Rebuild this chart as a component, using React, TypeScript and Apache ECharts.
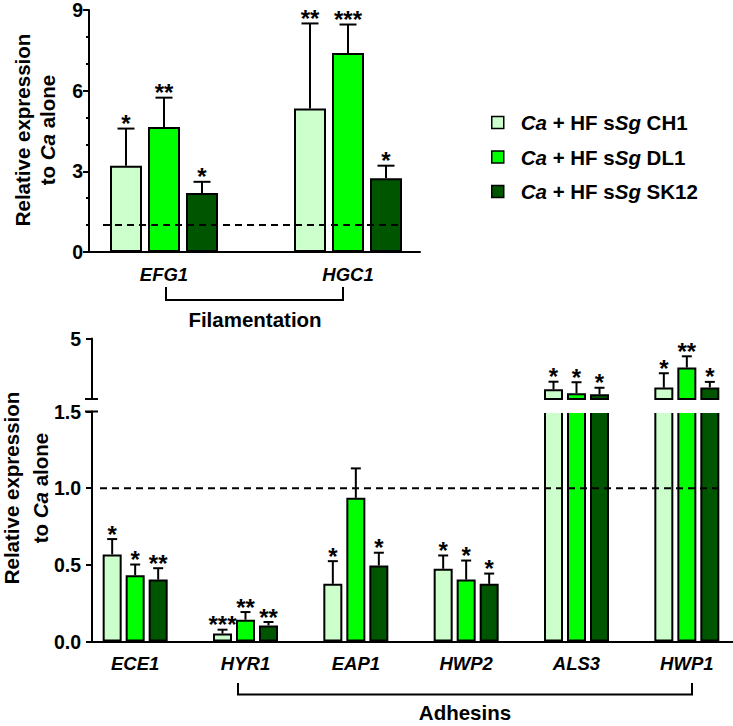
import React, { useEffect, useRef } from 'react';
import * as echarts from 'echarts';

const FONT = '"Liberation Sans", Arial, Helvetica, sans-serif';

// ---------- data ----------
const strains = ['CH1', 'DL1', 'SK12'];
const seriesNames = ['Ca + HF sSg CH1', 'Ca + HF sSg DL1', 'Ca + HF sSg SK12'];
const colors = ['#ccffcc', '#00ff00', '#005500'];

// Filamentation genes (top panel)
const filCategories = ['EFG1', 'HGC1'];
const filCH1 = [3.21, 5.34];
const filDL1 = [4.65, 7.4];
const filSK12 = [2.19, 2.74];
const filErrCH1 = [1.38, 3.16];
const filErrDL1 = [1.09, 1.06];
const filErrSK12 = [0.42, 0.47];
const filStarsCH1 = ['*', '**'];
const filStarsDL1 = ['**', '***'];
const filStarsSK12 = ['*', '*'];

// Adhesin genes (bottom panel)
const adhCategories = ['ECE1', 'HYR1', 'EAP1', 'HWP2', 'ALS3', 'HWP1'];
const adhCH1 = [0.568, 0.052, 0.376, 0.474, 2.06, 2.16];
const adhDL1 = [0.432, 0.142, 0.937, 0.404, 1.83, 3.32];
const adhSK12 = [0.404, 0.105, 0.496, 0.376, 1.77, 2.17];
const adhErrCH1 = [0.1, 0.025, 0.148, 0.087, 0.44, 0.83];
const adhErrDL1 = [0.07, 0.05, 0.192, 0.124, 0.64, 0.65];
const adhErrSK12 = [0.074, 0.022, 0.083, 0.067, 0.38, 0.32];
const adhStarsCH1 = ['*', '***', '*', '*', '*', '*'];
const adhStarsDL1 = ['*', '**', '', '*', '*', '**'];
const adhStarsSK12 = ['**', '**', '*', '*', '*', '*'];

// axis settings
const topMin = 0;
const topMax = 9;
const topInterval = 3;
const lowMin = 0;
const lowMax = 1.5;
const lowInterval = 0.5;
const upMin = 1.5;
const upMax = 5;
const upTicks = [5];
const refLevel = 1;

// ---------- layout / style constants ----------
const TOP_BAR_W = 32;
const TOP_GAP = 6;
const BOT_BAR_W = 19;
const BOT_GAP = 4;
const STAR_SIZE = 24;
const STAR_OFFSET = 5;

const black = '#000';

type Item = { cat: number; value: number; err: number; star: string; k: number };

function makeItems(vals: number[][], errs: number[][], stars: string[][]): Item[] {
  const out: Item[] = [];
  vals.forEach((arr, k) => {
    arr.forEach((v, i) => {
      out.push({ cat: i, value: v, err: errs[k][i], star: stars[k][i], k });
    });
  });
  return out;
}

function errorSeries(
  xAxisIndex: number,
  yAxisIndex: number,
  items: Item[],
  spacing: number,
  capHalf: number
) {
  return {
    type: 'custom',
    xAxisIndex,
    yAxisIndex,
    z: 5,
    silent: true,
    data: items.map((it) => [it.cat, it.value, it.err]),
    renderItem: (params: any, api: any) => {
      const it = items[params.dataIndex];
      const base = api.coord([it.cat, it.value]);
      const top = api.coord([it.cat, it.value + it.err]);
      const x = base[0] + (it.k - 1) * spacing;
      return {
        type: 'group',
        children: [
          {
            type: 'line',
            shape: { x1: x, y1: base[1], x2: x, y2: top[1] },
            style: { stroke: black, lineWidth: 2 },
          },
          {
            type: 'line',
            shape: { x1: x - capHalf, y1: top[1], x2: x + capHalf, y2: top[1] },
            style: { stroke: black, lineWidth: 2 },
          },
          {
            type: 'text',
            x,
            y: top[1] - STAR_OFFSET,
            style: {
              text: it.star,
              fontSize: STAR_SIZE,
              fontWeight: 'bold',
              fontFamily: FONT,
              fill: black,
              align: 'center',
              verticalAlign: 'middle',
            },
          },
        ],
      };
    },
  };
}

const tickLabelStyle = {
  fontSize: 19.5,
  fontWeight: 'bold',
  fontFamily: FONT,
  color: black,
};

const catLabelStyle = {
  fontSize: 18.5,
  fontWeight: 'bold',
  fontStyle: 'italic',
  fontFamily: FONT,
  color: black,
};

function buildOption() {
  const filVals = [filCH1, filDL1, filSK12];
  const filErrs = [filErrCH1, filErrDL1, filErrSK12];
  const filStars = [filStarsCH1, filStarsDL1, filStarsSK12];
  const adhVals = [adhCH1, adhDL1, adhSK12];
  const adhErrs = [adhErrCH1, adhErrDL1, adhErrSK12];
  const adhStars = [adhStarsCH1, adhStarsDL1, adhStarsSK12];

  const filItems = makeItems(filVals, filErrs, filStars);
  const adhItems = makeItems(adhVals, adhErrs, adhStars);
  const adhLowItems = adhItems.filter((it) => it.value <= lowMax);
  const adhUpItems = adhItems.filter((it) => it.value > upMin);

  const grid = [
    { left: 89, top: 10, width: 331, height: 242 }, // 0 top display
    { left: 72, top: 10, width: 368, height: 242 }, // 1 top data
    { left: 92, top: 411.5, width: 641, height: 230 }, // 2 lower display
    { left: 80, top: 411.5, width: 662, height: 230 }, // 3 lower data
    { left: 92, top: 338.5, width: 641, height: 60.5 }, // 4 upper display
    { left: 80, top: 338.5, width: 662, height: 60.5 }, // 5 upper data
  ].map((g) => ({ ...g, containLabel: false, outerBoundsMode: 'none' }));

  const axisLine = { show: true, onZero: false, lineStyle: { color: black, width: 2 } };

  const xAxis = [
    {
      gridIndex: 0, type: 'value', min: 0, max: 1,
      axisLine, axisTick: { show: false }, axisLabel: { show: false }, splitLine: { show: false },
    },
    {
      gridIndex: 1, type: 'category', data: filCategories,
      axisLine: { show: false }, axisTick: { show: false },
      axisLabel: { ...catLabelStyle, margin: 13 },
    },
    {
      gridIndex: 2, type: 'value', min: 0, max: 1,
      axisLine, axisTick: { show: false }, axisLabel: { show: false }, splitLine: { show: false },
    },
    {
      gridIndex: 3, type: 'category', data: adhCategories,
      axisLine: { show: false }, axisTick: { show: false },
      axisLabel: { ...catLabelStyle, margin: 12 },
    },
    { gridIndex: 4, type: 'value', min: 0, max: 1, show: false },
    { gridIndex: 5, type: 'category', data: adhCategories, show: false },
  ];

  const yAxis = [
    {
      gridIndex: 0, type: 'value', min: topMin, max: topMax, interval: topInterval,
      axisLine, axisTick: { show: true, length: 6, lineStyle: { color: black, width: 2 } },
      minorTick: { show: true, splitNumber: 3, length: 3, lineStyle: { color: black, width: 2 } },
      axisLabel: { ...tickLabelStyle, margin: 6 },
      splitLine: { show: false }, minorSplitLine: { show: false },
    },
    { gridIndex: 1, type: 'value', min: topMin, max: topMax, show: false, splitLine: { show: false } },
    {
      gridIndex: 2, type: 'value', min: lowMin, max: lowMax, interval: lowInterval,
      axisLine, axisTick: { show: true, length: 6, lineStyle: { color: black, width: 2 } },
      axisLabel: { ...tickLabelStyle, margin: 11, formatter: (v: number) => v.toFixed(1) },
      splitLine: { show: false },
    },
    { gridIndex: 3, type: 'value', min: lowMin, max: lowMax, show: false, splitLine: { show: false } },
    {
      gridIndex: 4, type: 'value', min: upMin, max: upMax,
      axisLine,
      axisTick: { show: true, length: 6, customValues: upTicks, lineStyle: { color: black, width: 2 } },
      axisLabel: { ...tickLabelStyle, margin: 11, customValues: upTicks },
      splitLine: { show: false },
    },
    { gridIndex: 5, type: 'value', min: upMin, max: upMax, show: false, splitLine: { show: false } },
  ];

  const series: any[] = [];
  filVals.forEach((vals, k) => {
    series.push({
      type: 'bar', name: seriesNames[k], xAxisIndex: 1, yAxisIndex: 1, data: vals,
      barWidth: TOP_BAR_W, barGap: `${(TOP_GAP / TOP_BAR_W) * 100}%`,
      itemStyle: { color: colors[k], borderColor: black, borderWidth: 2 },
      silent: true,
    });
  });
  adhVals.forEach((vals, k) => {
    series.push({
      type: 'bar', name: seriesNames[k], xAxisIndex: 3, yAxisIndex: 3, data: vals,
      barWidth: BOT_BAR_W, barGap: `${(BOT_GAP / BOT_BAR_W) * 100}%`,
      itemStyle: { color: colors[k], borderColor: black, borderWidth: 2 },
      clip: true, silent: true,
    });
  });
  adhVals.forEach((vals, k) => {
    series.push({
      type: 'bar', name: seriesNames[k], xAxisIndex: 5, yAxisIndex: 5,
      data: vals.map((v) => (v > upMin ? v : '-')),
      barWidth: BOT_BAR_W, barGap: `${(BOT_GAP / BOT_BAR_W) * 100}%`,
      itemStyle: { color: colors[k], borderColor: black, borderWidth: 2 },
      clip: true, silent: true,
    });
  });
  series.push(errorSeries(1, 1, filItems, TOP_BAR_W + TOP_GAP, 8.5));
  series.push(errorSeries(3, 3, adhLowItems, BOT_BAR_W + BOT_GAP, 5));
  series.push(errorSeries(5, 5, adhUpItems, BOT_BAR_W + BOT_GAP, 5));

  const richBase = { fontSize: 20.5, fontWeight: 'bold', fontFamily: FONT, color: black, lineHeight: 21 };

  return {
    animation: false,
    backgroundColor: '#fff',
    textStyle: { fontFamily: FONT },
    grid,
    xAxis,
    yAxis,
    series,
    legend: {
      data: seriesNames,
      orient: 'vertical',
      left: 486,
      top: 107,
      itemWidth: 12,
      itemHeight: 12,
      itemGap: 13.5,
      icon: 'rect',
      selectedMode: false,
      itemStyle: { borderColor: black, borderWidth: 1.5 },
      formatter: (name: string) => {
        const k = seriesNames.indexOf(name);
        return `{sp|}{i|Ca}{n| + HF s}{i|Sg}{n| ${strains[k]}}`;
      },
      textStyle: {
        rich: {
          sp: { width: 12, lineHeight: 21 },
          i: { ...richBase, fontStyle: 'italic' },
          n: { ...richBase },
        },
      },
    },
  };
}

function titleLines(x1: number, x2: number, y: number) {
  const base = { fontSize: 20.5, fontWeight: 'bold', fontFamily: FONT, fill: black, lineHeight: 18 };
  const mk = (x: number, text: string) => ({
    type: 'text',
    x,
    y,
    rotation: Math.PI / 2,
    z: 100,
    style: {
      text,
      align: 'center',
      verticalAlign: 'middle',
      rich: { a: { ...base }, b: { ...base, fontStyle: 'italic' } },
    },
  });
  return [mk(x1, '{a|Relative expression}'), mk(x2, '{a|to }{b|Ca}{a| alone}')];
}

export default function App() {
  const ref = useRef<HTMLDivElement>(null);
  useEffect(() => {
    if (!ref.current) return;
    const chart = echarts.init(ref.current, null, { renderer: 'svg' });
    chart.setOption(buildOption() as any);

    const yTopRef = chart.convertToPixel({ yAxisIndex: 1 } as any, refLevel) as number;
    const yLowRef = chart.convertToPixel({ yAxisIndex: 3 } as any, refLevel) as number;
    const yLowTop = chart.convertToPixel({ yAxisIndex: 2 } as any, lowMax) as number;
    const yUpBottom = chart.convertToPixel({ yAxisIndex: 4 } as any, upMin) as number;

    const lineStyle = { stroke: black, lineWidth: 2 };
    const dashStyle = { stroke: black, lineWidth: 2, lineDash: [7, 5] };

    chart.setOption({
      graphic: [
        // gap cover for the broken axis
        {
          type: 'rect', z: 90,
          shape: { x: 94, y: yUpBottom + 1.2, width: 640, height: yLowTop - yUpBottom + 0.3 },
          style: { fill: '#fff' },
        },
        // break marks
        { type: 'line', z: 100, shape: { x1: 85, y1: yUpBottom, x2: 98, y2: yUpBottom }, style: lineStyle },
        { type: 'line', z: 100, shape: { x1: 85, y1: yLowTop, x2: 98, y2: yLowTop }, style: lineStyle },
        // reference dashed lines
        { type: 'line', z: 100, shape: { x1: 103, y1: yTopRef, x2: 398, y2: yTopRef }, style: dashStyle },
        { type: 'line', z: 100, shape: { x1: 100, y1: yLowRef, x2: 717, y2: yLowRef }, style: dashStyle },
        // brackets
        {
          type: 'polyline', z: 100,
          shape: { points: [[166, 287], [166, 300], [343, 300], [343, 287]] },
          style: { ...lineStyle, fill: 'none' },
        },
        {
          type: 'polyline', z: 100,
          shape: { points: [[238, 683], [238, 694.5], [692, 694.5], [692, 683]] },
          style: { ...lineStyle, fill: 'none' },
        },
        {
          type: 'text', z: 100, x: 255, y: 319,
          style: {
            text: 'Filamentation', fontSize: 20.5, fontWeight: 'bold', fontFamily: FONT,
            fill: black, align: 'center', verticalAlign: 'middle',
          },
        },
        {
          type: 'text', z: 100, x: 465, y: 712,
          style: {
            text: 'Adhesins', fontSize: 20.5, fontWeight: 'bold', fontFamily: FONT,
            fill: black, align: 'center', verticalAlign: 'middle',
          },
        },
        ...titleLines(22, 47, 130),
        ...titleLines(11, 40, 488),
      ],
    } as any);

    return () => chart.dispose();
  }, []);
  return (
    <div
      ref={ref}
      style={{ position: 'fixed', left: 0, top: 0, width: 733, height: 726, background: '#fff' }}
    />
  );
}
